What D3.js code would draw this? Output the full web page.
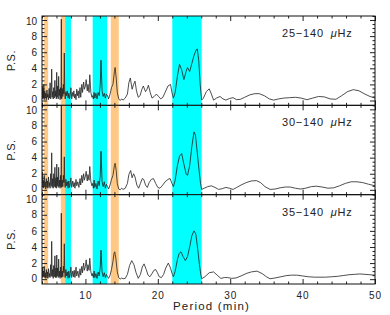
<!DOCTYPE html>
<html>
<head>
<meta charset="utf-8">
<script src="https://cdn.jsdelivr.net/npm/d3@7"></script>
<style>
  body { margin: 0; background: #fff; }
  svg text { font-family: "Liberation Sans", Arial, sans-serif; fill: #222; }
</style>
</head>
<body>
<div id="app"></div>
<script>
/////////DATA//////////

const panelLabels = ['25\u2212140 ', '30\u2212140 ', '35\u2212140 '];

// [period (min), power]
const ps25 = [[4.00,0.5],[4.05,1.8],[4.10,0.2],[4.15,1.5],[4.20,0.3],[4.25,2.0],[4.30,0.1],[4.38,1.2],[4.45,0.3],[4.52,0.9],
  [4.60,0.1],[4.68,1.3],[4.75,0.4],[4.82,0.8],[4.90,0.1],[4.98,1.5],[5.05,0.3],[5.12,2.2],[5.20,0.2],[5.28,1.0],
  [5.34,3.9],[5.40,0.4],[5.48,1.1],[5.55,0.2],[5.62,1.6],[5.70,0.3],[5.78,2.5],[5.85,0.5],[5.92,1.2],[5.98,0.2],
  [6.03,3.5],[6.10,0.4],[6.17,1.8],[6.24,0.2],[6.30,3.0],[6.37,0.6],[6.44,1.4],[6.50,0.1],[6.56,1.6],[6.62,0.3],
  [6.67,10.1],[6.72,0.2],[6.80,1.5],[6.88,0.5],[6.95,2.0],[7.02,0.8],[7.08,5.9],[7.14,1.0],[7.20,0.2],[7.30,1.1],
  [7.40,0.6],[7.50,1.2],[7.60,0.3],[7.70,0.9],[7.80,0.2],[7.90,0.7],[8.00,1.6],[8.10,0.2],[8.20,1.0],[8.30,0.5],
  [8.40,1.2],[8.50,0.3],[8.60,0.8],[8.70,0.1],[8.80,1.4],[8.90,0.6],[9.00,1.2],[9.10,0.3],[9.25,1.6],[9.35,0.4],
  [9.50,2.0],[9.60,1.0],[9.75,2.3],[9.85,1.4],[10.0,1.8],[10.1,2.6],[10.25,1.2],[10.35,2.0],[10.5,1.0],[10.6,3.2],
  [10.75,1.0],[10.9,0.4],[11.0,0.6],[11.1,0.2],[11.2,1.0],[11.3,0.3],[11.45,0.9],[11.6,0.2],[11.75,1.0],[11.9,0.6],
  [12.05,2.0],[12.15,5.0],[12.3,1.2],[12.45,0.5],[12.6,0.9],[12.75,0.3],[12.9,0.8],[13.05,0.6],[13.2,0.2],[13.4,0.8],
  [13.6,1.6],[13.8,2.0],[14.0,3.6],[14.1,4.1],[14.25,2.8],[14.4,1.0],[14.6,0.2],[14.8,0.0],[15.0,0.2],[15.2,0.05],
  [15.5,0.3],[15.8,0.8],[16.0,2.2],[16.2,2.8],[16.45,1.4],[16.65,2.0],[16.85,2.4],[17.05,1.2],[17.3,0.4],[17.55,0.6],
  [17.8,1.4],[18.0,1.8],[18.3,1.1],[18.5,1.4],[18.7,1.9],[18.95,1.0],[19.2,0.3],[19.5,0.5],[19.8,0.8],[20.1,0.5],
  [20.4,0.2],[20.7,0.4],[21.0,1.0],[21.4,1.8],[21.75,2.0],[22.0,0.8],[22.15,0.3],[22.4,1.0],[22.7,3.0],[23.0,4.5],
  [23.3,3.8],[23.6,2.6],[23.9,3.6],[24.1,4.1],[24.4,3.6],[24.7,4.6],[25.0,5.6],[25.3,6.3],[25.45,6.4],[25.65,5.0],
  [25.85,2.0],[26.05,0.05],[26.3,0.3],[26.7,1.1],[27.1,1.45],[27.4,0.8],[27.7,0.05],[28.1,0.3],[28.6,0.5],[29.0,0.2],
  [29.4,0.05],[29.9,0.25],[30.4,0.35],[30.9,0.1],[31.4,0.15],[32.0,0.4],[32.7,0.7],[33.4,0.85],[34.0,0.85],[34.7,0.6],
  [35.4,0.2],[36.0,0.05],[36.7,0.2],[37.4,0.3],[38.2,0.35],[39.0,0.4],[39.8,0.3],[40.6,0.1],[41.4,0.3],[42.2,0.5],
  [43.0,0.45],[43.8,0.2],[44.6,0.15],[45.4,0.6],[46.2,1.1],[47.0,1.35],[47.8,1.2],[48.6,0.8],[49.3,0.5],[50.0,0.3]];

const ps30 = [[4.00,0.8],[4.05,2.2],[4.10,0.3],[4.17,1.2],[4.24,0.2],[4.30,1.8],[4.38,0.4],[4.45,1.0],[4.52,0.1],[4.60,1.4],
  [4.68,0.3],[4.75,1.1],[4.82,0.2],[4.90,1.6],[4.98,0.4],[5.05,0.9],[5.12,0.2],[5.20,2.0],[5.27,0.5],[5.34,4.6],
  [5.40,0.3],[5.48,1.4],[5.55,0.2],[5.62,2.0],[5.70,0.4],[5.78,2.8],[5.85,0.3],[5.92,1.5],[5.98,0.2],[6.04,3.2],
  [6.10,0.5],[6.17,1.6],[6.24,0.3],[6.30,2.8],[6.37,0.4],[6.44,1.2],[6.50,0.2],[6.57,1.8],[6.62,0.4],[6.67,10.6],
  [6.72,0.3],[6.80,1.2],[6.88,0.4],[6.95,1.8],[7.02,0.9],[7.08,4.1],[7.14,0.8],[7.20,0.3],[7.30,1.3],[7.40,0.5],
  [7.50,1.0],[7.60,0.2],[7.70,1.1],[7.80,0.3],[7.90,0.8],[8.00,1.5],[8.10,0.3],[8.25,1.1],[8.35,0.4],[8.45,0.9],
  [8.55,0.2],[8.70,1.3],[8.80,0.5],[8.95,1.0],[9.10,0.3],[9.25,1.4],[9.35,0.6],[9.50,1.8],[9.60,0.9],[9.75,2.0],
  [9.85,1.2],[10.0,1.7],[10.1,2.3],[10.25,1.1],[10.35,1.9],[10.5,1.2],[10.6,2.9],[10.75,1.0],[10.9,0.5],[11.0,0.8],
  [11.1,0.2],[11.2,1.2],[11.3,0.3],[11.45,0.8],[11.6,0.1],[11.75,1.1],[11.9,0.5],[12.05,1.8],[12.15,4.8],[12.3,1.0],
  [12.45,0.4],[12.6,1.0],[12.75,0.2],[12.9,0.7],[13.05,0.4],[13.2,0.1],[13.4,0.6],[13.6,1.3],[13.8,1.8],[14.0,3.0],
  [14.1,3.3],[14.25,2.4],[14.4,0.8],[14.6,0.1],[14.8,0.0],[15.0,0.2],[15.2,0.05],[15.5,0.2],[15.8,0.8],[16.0,1.9],
  [16.25,2.4],[16.45,1.5],[16.65,2.0],[16.85,1.6],[17.1,0.6],[17.35,0.2],[17.6,0.8],[17.85,1.4],[18.05,1.3],[18.3,0.6],
  [18.55,0.3],[18.8,0.9],[19.1,1.3],[19.4,1.4],[19.7,0.8],[20.0,0.3],[20.3,0.2],[20.6,0.5],[21.0,1.0],[21.4,1.3],
  [21.7,1.4],[21.95,0.8],[22.15,0.4],[22.4,1.2],[22.7,3.0],[23.0,4.2],[23.3,4.5],[23.6,3.2],[23.9,2.0],[24.1,1.8],
  [24.4,3.0],[24.7,5.4],[25.0,7.2],[25.2,6.8],[25.45,4.6],[25.7,2.4],[25.9,0.8],[26.05,0.05],[26.4,0.2],[26.9,0.4],
  [27.4,0.5],[27.9,0.3],[28.4,0.05],[28.9,0.15],[29.4,0.3],[29.9,0.2],[30.4,0.05],[30.9,0.3],[31.5,0.6],[32.2,0.9],
  [32.9,1.1],[33.6,1.15],[34.2,0.9],[34.8,0.4],[35.5,0.05],[36.2,0.1],[36.9,0.25],[37.6,0.35],[38.3,0.35],[39.0,0.2],
  [39.7,0.1],[40.4,0.2],[41.2,0.4],[41.9,0.45],[42.7,0.35],[43.5,0.2],[44.3,0.25],[45.1,0.5],[45.9,0.8],[46.7,1.0],
  [47.5,1.0],[48.3,0.9],[49.1,0.7],[50.0,0.5]];

const ps35 = [[4.00,0.6],[4.05,1.5],[4.10,0.2],[4.17,1.0],[4.24,0.3],[4.30,1.6],[4.38,0.2],[4.45,0.8],[4.52,0.1],[4.60,1.2],
  [4.68,0.2],[4.75,0.9],[4.82,0.1],[4.90,1.3],[4.98,0.3],[5.05,0.7],[5.12,0.2],[5.20,1.8],[5.27,0.4],[5.34,4.7],
  [5.40,0.3],[5.48,1.2],[5.55,0.1],[5.62,1.7],[5.70,0.3],[5.78,2.9],[5.85,0.2],[5.92,1.4],[5.98,0.2],[6.04,3.0],
  [6.10,0.4],[6.17,1.4],[6.24,0.2],[6.30,2.5],[6.37,0.3],[6.44,1.0],[6.50,0.1],[6.57,1.5],[6.62,0.3],[6.67,8.2],
  [6.72,0.2],[6.80,1.0],[6.88,0.3],[6.95,1.6],[7.02,0.8],[7.08,4.4],[7.14,0.7],[7.20,0.2],[7.30,1.2],[7.40,0.4],
  [7.50,0.9],[7.60,0.1],[7.70,1.0],[7.80,0.2],[7.90,0.7],[8.00,1.5],[8.10,0.2],[8.25,1.0],[8.35,0.3],[8.45,1.1],
  [8.55,0.2],[8.70,1.5],[8.80,0.4],[8.95,1.0],[9.10,0.2],[9.25,1.3],[9.35,0.5],[9.50,1.6],[9.60,0.8],[9.75,2.0],
  [9.85,1.1],[10.0,1.6],[10.1,2.4],[10.25,1.0],[10.35,1.8],[10.5,1.1],[10.6,2.6],[10.75,0.9],[10.9,0.4],[11.0,0.7],
  [11.1,0.2],[11.2,1.0],[11.3,0.2],[11.45,0.7],[11.6,0.1],[11.75,0.9],[11.9,0.4],[12.05,1.5],[12.15,3.6],[12.3,0.9],
  [12.45,0.3],[12.6,0.8],[12.75,0.2],[12.9,0.6],[13.05,0.3],[13.2,0.1],[13.4,0.5],[13.6,1.2],[13.8,2.2],[13.95,3.2],
  [14.05,3.4],[14.2,2.6],[14.4,0.9],[14.6,0.2],[14.8,0.0],[15.0,0.15],[15.2,0.05],[15.5,0.1],[15.8,0.6],[16.1,1.7],
  [16.4,2.3],[16.7,1.8],[17.0,0.8],[17.3,0.1],[17.6,0.6],[17.85,1.5],[18.1,1.9],[18.4,1.2],[18.65,0.5],[18.9,0.3],
  [19.2,0.7],[19.45,1.1],[19.7,1.2],[19.95,0.8],[20.2,0.3],[20.5,0.2],[20.8,0.6],[21.1,1.4],[21.45,2.0],[21.75,1.4],
  [22.0,0.6],[22.15,0.3],[22.4,1.0],[22.7,2.4],[22.95,3.2],[23.2,3.4],[23.5,2.8],[23.8,2.3],[24.1,2.8],[24.4,4.0],
  [24.7,5.4],[25.0,6.0],[25.25,5.6],[25.5,3.8],[25.75,1.8],[25.95,0.5],[26.05,0.05],[26.5,0.3],[27.1,0.8],[27.7,0.9],
  [28.2,0.5],[28.7,0.1],[29.2,0.2],[29.6,0.2],[30.2,0.1],[30.8,0.15],[31.5,0.4],[32.2,0.7],[32.9,0.9],[33.7,1.0],
  [34.4,0.7],[35.0,0.3],[35.5,0.05],[36.2,0.15],[37.0,0.3],[37.8,0.45],[38.5,0.5],[39.2,0.5],[40.0,0.4],[40.8,0.3],
  [41.6,0.25],[42.4,0.25],[43.2,0.25],[44.0,0.3],[44.8,0.35],[45.6,0.45],[46.4,0.55],[47.2,0.6],[47.9,0.65],[48.6,0.6],
  [49.3,0.55],[50.0,0.5]];

const orangeBands = [[4.3, 4.85], [6.6, 7.2], [13.5, 14.6]];
const cyanBands = [[7.2, 8.0], [11.0, 13.0], [22.0, 26.05]];

const xTicks = [10, 20, 30, 40, 50];
const yTicks = [0, 2, 4, 6, 8, 10];

/////////SVG//////////

const w = 390, h = 315;
const plotLeft = 42, plotRight = 375, plotTop = 16, plotBottom = 284;
const panelH = (plotBottom - plotTop) / 3;

const svg = d3.select('#app')
  .append('svg')
  .attr('width', w)
  .attr('height', h);

const xScale = d3.scaleLinear().domain([4, 50]).range([plotLeft, plotRight]);

const series = [ps25, ps30, ps35];

series.forEach((data, i) => {
  const y0 = plotTop + i * panelH;
  const yScale = d3.scaleLinear().domain([-0.6, 10.5]).range([y0 + panelH, y0]);
  const g = svg.append('g');

  svg.append('clipPath').attr('id', 'clip' + i)
    .append('rect')
    .attr('x', plotLeft).attr('y', y0)
    .attr('width', plotRight - plotLeft).attr('height', panelH);

  /////////BANDS//////////
  g.selectAll('.orange')
    .data(orangeBands)
    .enter()
    .append('rect')
    .attr('x', (d) => xScale(d[0]))
    .attr('width', (d) => xScale(d[1]) - xScale(d[0]))
    .attr('y', y0)
    .attr('height', panelH)
    .attr('fill', '#FFC985');

  g.selectAll('.cyan')
    .data(cyanBands)
    .enter()
    .append('rect')
    .attr('x', (d) => xScale(d[0]))
    .attr('width', (d) => xScale(d[1]) - xScale(d[0]))
    .attr('y', y0)
    .attr('height', panelH)
    .attr('fill', '#00FFFF');

  /////////LINE//////////
  const line = d3.line()
    .x((d) => xScale(d[0]))
    .y((d) => yScale(d[1]));

  g.append('path')
    .datum(data)
    .attr('clip-path', 'url(#clip' + i + ')')
    .attr('d', line)
    .attr('fill', 'none')
    .attr('stroke', '#222')
    .attr('stroke-width', 0.8);

  /////////AXES//////////
  const minorY = d3.range(0, 10.51, 0.5).filter((v) => v % 2 !== 0);
  const minorX = d3.range(4, 50.1, 2).filter((v) => v % 10 !== 0);

  g.append('g')
    .attr('class', 'yleft')
    .attr('transform', 'translate(' + plotLeft + ',0)')
    .call(d3.axisLeft(yScale).tickValues(yTicks).tickSize(-5).tickPadding(5).tickFormat(d3.format('d')));
  g.append('g')
    .attr('transform', 'translate(' + plotLeft + ',0)')
    .call(d3.axisLeft(yScale).tickValues(minorY).tickSize(-2.5).tickFormat(''));
  g.append('g')
    .attr('transform', 'translate(' + plotRight + ',0)')
    .call(d3.axisRight(yScale).tickValues(yTicks).tickSize(-5).tickFormat(''));
  g.append('g')
    .attr('transform', 'translate(' + plotRight + ',0)')
    .call(d3.axisRight(yScale).tickValues(minorY).tickSize(-2.5).tickFormat(''));

  g.append('g')
    .attr('transform', 'translate(0,' + y0 + ')')
    .call(d3.axisTop(xScale).tickValues(xTicks).tickSize(-5).tickFormat(''));
  g.append('g')
    .attr('transform', 'translate(0,' + y0 + ')')
    .call(d3.axisTop(xScale).tickValues(minorX).tickSize(-2.5).tickFormat(''));
  g.append('g')
    .attr('class', 'xbottom')
    .attr('transform', 'translate(0,' + (y0 + panelH) + ')')
    .call(d3.axisBottom(xScale).tickValues(xTicks).tickSize(-5).tickPadding(8)
      .tickFormat(i === 2 ? d3.format('d') : ''));
  g.append('g')
    .attr('transform', 'translate(0,' + (y0 + panelH) + ')')
    .call(d3.axisBottom(xScale).tickValues(minorX).tickSize(-2.5).tickFormat(''));

  g.selectAll('.domain').remove();
  g.selectAll('.tick line').attr('stroke', '#222');
  g.selectAll('.tick text')
    .style('font-size', '10px')
    .style('font-family', '"Liberation Sans", Arial, sans-serif')
    .attr('fill', '#222');
  g.selectAll('.xbottom .tick text').style('letter-spacing', '1px');
  // keep the 0 of one panel and the 10 of the next apart
  g.selectAll('.yleft .tick text')
    .attr('dy', (d) => d === 0 ? '0.2em' : d === 10 ? '0.42em' : '0.32em');

  g.append('rect')
    .attr('x', plotLeft).attr('y', y0)
    .attr('width', plotRight - plotLeft).attr('height', panelH)
    .attr('fill', 'none')
    .attr('stroke', '#111')
    .attr('stroke-width', 1);

  /////////LABELS//////////
  g.append('text')
    .attr('transform', 'translate(15,' + (y0 + panelH / 2) + ') rotate(-90)')
    .attr('text-anchor', 'middle')
    .style('font-size', '11px')
    .style('letter-spacing', '0.5px')
    .text('P.S.');

  const lab = g.append('text')
    .attr('x', 282)
    .attr('y', y0 + 21)
    .style('font-size', '11px')
    .style('letter-spacing', '0.8px');
  lab.append('tspan').text(panelLabels[i]);
  lab.append('tspan').attr('dx', 3).style('font-style', 'italic').text('\u03bc');
  lab.append('tspan').text('Hz');
});

svg.append('text')
  .attr('x', (plotLeft + plotRight) / 2 + 3)
  .attr('y', 310)
  .attr('text-anchor', 'middle')
  .style('font-size', '11.5px')
  .style('letter-spacing', '1.2px')
  .text('Period (min)');
</script>
</body>
</html>
